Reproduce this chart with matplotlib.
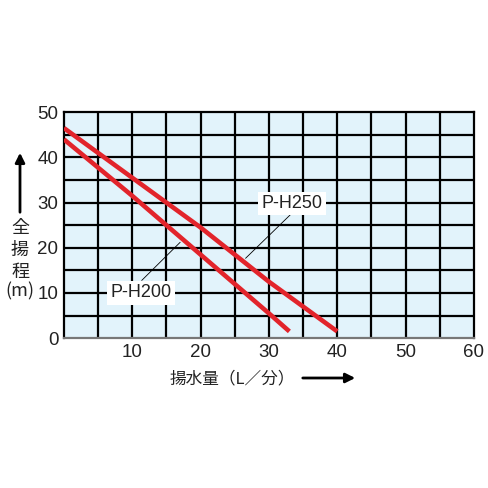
import matplotlib
matplotlib.use("Agg")
import matplotlib.pyplot as plt

plt.rcParams['font.family'] = ['Liberation Sans', 'Noto Sans CJK JP', 'DejaVu Sans']

# data
h250_x = [0, 10, 20, 30, 40]
h250_y = [46.5, 35.5, 24.5, 12.5, 1.5]
h200_x = [0, 10, 20, 30, 33]
h200_y = [44, 31.5, 18.5, 5.5, 1.5]
xticks = [10, 20, 30, 40, 50, 60]
yticks = [0, 10, 20, 30, 40, 50]
ylabel_chars = ['全', '揚', '程', '(m)']

fig = plt.figure(figsize=(4.88, 4.88), dpi=100)
ax = fig.add_axes([0.131, 0.307, 0.840, 0.463])
ax.set_facecolor('#e2f3fb')
ax.set_xlim(0, 60)
ax.set_ylim(0, 50)

for v in range(5, 60, 5):
    ax.axvline(v, color='black', lw=1.6, zorder=1)
for v in range(5, 50, 5):
    ax.axhline(v, color='black', lw=1.6, zorder=1)

red = '#e2242b'
ax.plot(h250_x, h250_y, color=red, lw=3.3, solid_capstyle='butt', zorder=3)
ax.plot(h200_x, h200_y, color=red, lw=3.3, solid_capstyle='butt', zorder=3)

# labels with leader lines
ax.plot([11.4, 17.0], [12.8, 21.2], color='black', lw=0.6, zorder=4)
ax.text(11.3, 10, 'P-H200', ha='center', va='center', fontsize=13,
        color='#222222', zorder=5,
        bbox=dict(facecolor='white', edgecolor='none', pad=2.5))
ax.plot([33.4, 26.6], [27.7, 17.7], color='black', lw=0.6, zorder=4)
ax.text(33.4, 29.8, 'P-H250', ha='center', va='center', fontsize=13,
        color='#222222', zorder=5,
        bbox=dict(facecolor='white', edgecolor='none', pad=2.5))

for s in ['left', 'top', 'right']:
    ax.spines[s].set_color('black')
    ax.spines[s].set_linewidth(1.6)
ax.spines['bottom'].set_color('#777777')
ax.spines['bottom'].set_linewidth(1.6)

ax.set_xticks(xticks)
ax.set_yticks(yticks)
ax.tick_params(length=0, labelsize=13.5, colors='#222222', pad=4)

# y axis title, one character per row
ypix = [228, 250, 272, 291]
for ch, yp in zip(ylabel_chars, ypix):
    fig.text(20 / 488, 1 - yp / 488, ch, ha='center', va='center',
             fontsize=13, family=['Noto Sans CJK JP'], color='#222222')
fig.add_artist(matplotlib.patches.FancyArrowPatch(
    (20 / 488, 1 - 215 / 488), (20 / 488, 1 - 150 / 488), transform=fig.transFigure,
    arrowstyle='-|>', mutation_scale=14, lw=2, color='black'))

fig.text(232 / 488, 1 - 379 / 488, '揚水量（L／分）', ha='center', va='center',
         fontsize=12, family=['Noto Sans CJK JP'], color='#222222')
fig.add_artist(matplotlib.patches.FancyArrowPatch(
    (300 / 488, 1 - 378 / 488), (358 / 488, 1 - 378 / 488), transform=fig.transFigure,
    arrowstyle='-|>', mutation_scale=14, lw=2, color='black'))

fig.savefig('out.png', dpi=100)
